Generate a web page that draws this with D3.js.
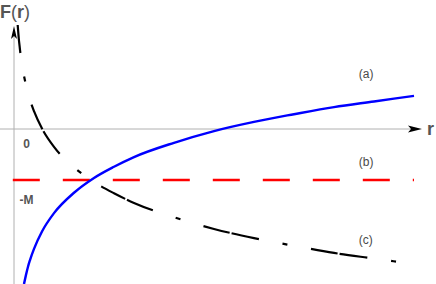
<!DOCTYPE html>
<html>
<head>
<meta charset="utf-8">
<script src="https://cdn.jsdelivr.net/npm/d3@7"></script>
<style>
  html, body { margin: 0; padding: 0; background: #fff; }
  svg { display: block; }
  text { font-family: "Liberation Sans", Arial, sans-serif; }
</style>
</head>
<body>
<svg id="chart" width="436" height="284"></svg>
<script>
// ---- data ----
// curve (a): F(r) rising curve
const rA = [0.25, 0.3, 0.35, 0.4, 0.5, 0.7, 1, 1.5, 2, 2.5, 3, 4, 5, 6, 7, 8, 9, 10];
const fA = [-3.04, -2.86, -2.70, -2.57, -2.35, -2.01, -1.65, -1.25, -0.96, -0.74, -0.55, -0.27, -0.04, 0.14, 0.29, 0.43, 0.54, 0.65];
// curve (b): constant level -M
const rB = [-0.03, 10];
const fB = [-1, -1];
// curve (c): falling curve
const rC = [0.092, 0.1, 0.11, 0.12, 0.135, 0.15, 0.175, 0.2, 0.25, 0.3, 0.4, 0.5, 0.7, 1, 1.5, 2, 2.5, 3, 4, 5, 6, 7, 8, 9, 10];
const fC = [2.04, 1.96, 1.86, 1.77, 1.66, 1.55, 1.40, 1.26, 1.04, 0.86, 0.57, 0.35, 0.01, -0.35, -0.75, -1.04, -1.26, -1.45, -1.73, -1.96, -2.14, -2.29, -2.43, -2.54, -2.65];
// axis / series labels
const axisLabelY = ["F", "(", "r", ")"];
const axisLabelX = "r";
const tickValues = [0, -1];
const tickLabels = ["0", "-M"];
const seriesNames = ["(a)", "(b)", "(c)"];

// ---- drawing ----
const svg = d3.select("#chart");
const W = 436, H = 284;
const x = d3.scaleLinear().domain([0, 10]).range([14, 414]);
const y = d3.scaleLinear().domain([-3, 2]).range([282, 27]);

svg.append("defs").append("clipPath").attr("id", "clip")
  .append("rect").attr("x", 0).attr("y", 25).attr("width", W).attr("height", H - 25);

const axisColor = "#b0b0b0";
// x axis
svg.append("line")
  .attr("x1", 0).attr("x2", 412)
  .attr("y1", y(0)).attr("y2", y(0))
  .attr("stroke", axisColor).attr("stroke-width", 1);
svg.append("path")
  .attr("d", `M${422},${y(0)} L${408},${y(0) - 3.5} L${411},${y(0)} L${408},${y(0) + 3.5} Z`)
  .attr("fill", "#000");
// y axis
svg.append("line")
  .attr("x1", x(0)).attr("x2", x(0))
  .attr("y1", H).attr("y2", 36)
  .attr("stroke", axisColor).attr("stroke-width", 1);
svg.append("path")
  .attr("d", `M${x(0)},26 L${x(0) - 3},39 L${x(0)},36 L${x(0) + 3},39 Z`)
  .attr("fill", "#000");

const line = d3.line().x(d => x(d[0])).y(d => y(d[1])).curve(d3.curveMonotoneX);
const g = svg.append("g").attr("clip-path", "url(#clip)");

// (b) red dashed
g.append("path")
  .datum(rB.map((r, i) => [r, fB[i]]))
  .attr("d", d3.line().x(d => x(d[0])).y(d => y(d[1])))
  .attr("fill", "none").attr("stroke", "#ff0000").attr("stroke-width", 2.4)
  .attr("stroke-dasharray", "27,23");

// (c) black dash-dot
g.append("path")
  .datum(rC.map((r, i) => [r, fC[i]]))
  .attr("d", line)
  .attr("fill", "none").attr("stroke", "#000").attr("stroke-width", 2.2)
  .attr("stroke-dasharray", "27,2,28,24,5,24")
  .attr("stroke-dashoffset", 29);

// (a) blue solid
g.append("path")
  .datum(rA.map((r, i) => [r, fA[i]]))
  .attr("d", line)
  .attr("fill", "none").attr("stroke", "#0000ff").attr("stroke-width", 2.4);

const textColor = "#555";
// F(r) label
const ft = svg.append("text").attr("x", 0).attr("y", 18)
  .attr("fill", textColor).attr("font-size", 18);
ft.selectAll("tspan").data(axisLabelY).join("tspan")
  .attr("font-weight", d => (d === "(" || d === ")") ? "normal" : "bold")
  .text(d => d);
// r label
svg.append("text").attr("x", 427).attr("y", 135)
  .attr("fill", textColor).attr("font-size", 18).attr("font-weight", "bold")
  .text(axisLabelX);

// tick labels
svg.selectAll("text.tick").data(tickValues).join("text")
  .attr("class", "tick")
  .attr("x", x(0) + 12.5)
  .attr("text-anchor", "middle")
  .attr("y", (d, i) => y(d) + (i === 0 ? 19 : 24))
  .attr("fill", textColor).attr("font-size", 12).attr("font-weight", "bold")
  .text((d, i) => tickLabels[i]);

// series labels
const labelF = [1.0, -0.72, -2.25];
svg.selectAll("text.series").data(seriesNames).join("text")
  .attr("class", "series")
  .attr("x", x(8.62))
  .attr("y", (d, i) => y(labelF[i]))
  .attr("fill", "#4a4a4a").attr("font-size", 12)
  .text(d => d);
</script>
</body>
</html>
